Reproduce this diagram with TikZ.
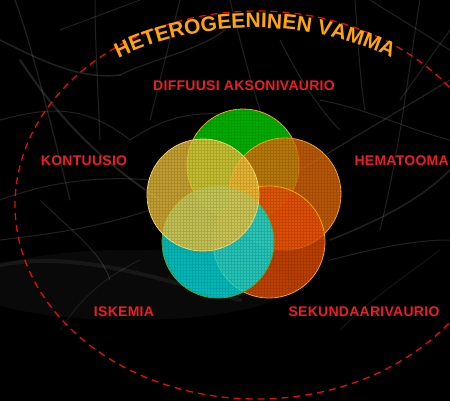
\documentclass[tikz,border=0pt]{standalone}
\usepackage{fontspec}
\setmainfont{Liberation Sans}
\newfontfamily\labfont{Liberation Sans}[LetterSpace=2]
\newfontfamily\arcfont{Liberation Sans}[UprightFont={* Bold}]
\usetikzlibrary{decorations.text}
\definecolor{labred}{RGB}{236,30,36}
\definecolor{dashred}{RGB}{230,10,10}
\definecolor{arcorange}{RGB}{255,165,10}
\definecolor{cgreen}{RGB}{0,215,0}
\definecolor{corange}{RGB}{228,108,12}
\definecolor{cdark}{RGB}{232,78,0}
\definecolor{ccyan}{RGB}{0,228,228}
\definecolor{cyellow}{RGB}{242,196,60}
\definecolor{cedge}{RGB}{245,170,20}
\newcommand\vennGrid[1]{%
  \begin{scope}
    \clip (#1.center) circle[radius=56];
    \draw[black, draw opacity=0.11, line width=0.7pt, step=3pt] ([shift={(-57,-57)}]#1.center) grid ([shift={(57,57)}]#1.center);
  \end{scope}}
\begin{document}
\begin{tikzpicture}[x=1pt,y=-1pt,
  lab/.style={text=labred, font={\labfont\bfseries\fontsize{14}{16}\selectfont}, inner sep=0pt},
  fiber/.style={draw=white, draw opacity=0.13, line cap=round},
  venn/.style={circle, minimum size=112pt, inner sep=0pt, fill opacity=0.8, line width=0.8pt},
]
\fill[black] (0,0) rectangle (450,401);
\useasboundingbox (0,0) rectangle (450,401);
% background fibres
\fill[white, opacity=0.035] (130,285) ellipse [x radius=160, y radius=35];
\draw[fiber, line width=1.5pt] (0,40) .. controls (40,60) and (80,80) .. (120,75);
\draw[fiber, line width=1.2pt] (15,0) .. controls (30,40) and (50,120) .. (70,200);
\draw[fiber, line width=1pt] (0,120) .. controls (40,110) and (80,100) .. (130,140);
\draw[fiber, line width=2pt] (20,60) .. controls (60,120) and (100,160) .. (160,200);
\draw[fiber, line width=1pt] (95,0) .. controls (95,40) and (98,90) .. (100,140);
\draw[fiber, line width=1pt] (60,30) -- (140,0);
\draw[fiber, line width=1.2pt] (120,75) .. controls (150,60) and (200,50) .. (225,30);
\draw[fiber, line width=1pt] (130,140) .. controls (160,120) and (190,110) .. (230,115);
\draw[fiber, line width=1pt] (0,200) .. controls (40,185) and (90,175) .. (150,180);
\draw[fiber, line width=1pt] (180,0) .. controls (170,40) and (160,80) .. (150,120);
\draw[fiber, line width=1pt] (230,0) .. controls (240,40) and (250,80) .. (260,110);
\draw[fiber, line width=1pt] (355,0) .. controls (358,40) and (360,80) .. (365,110);
\draw[fiber, line width=1.2pt] (300,170) .. controls (350,140) and (400,110) .. (450,80);
\draw[fiber, line width=1pt] (370,0) -- (450,50);
\draw[fiber, line width=1pt] (320,100) .. controls (370,110) and (410,130) .. (450,140);
\draw[fiber, line width=1.5pt] (330,240) .. controls (380,220) and (420,200) .. (450,170);
\draw[fiber, line width=1pt] (400,100) -- (450,30);
\draw[fiber, line width=1pt] (280,40) .. controls (300,80) and (320,110) .. (340,130);
\draw[fiber, line width=1pt] (420,0) .. controls (410,60) and (400,150) .. (380,230);
\draw[fiber, line width=1pt] (330,260) .. controls (370,250) and (410,240) .. (450,240);
\draw[fiber, line width=4pt, draw opacity=0.06] (0,265) .. controls (80,250) and (160,280) .. (240,300);
\draw[fiber, line width=1pt] (40,200) .. controls (70,230) and (100,250) .. (110,280);
\draw[fiber, line width=1pt] (0,240) .. controls (40,235) and (90,230) .. (150,210);
\draw[fiber, line width=1pt, draw opacity=0.08] (60,330) .. controls (80,300) and (100,280) .. (140,260);
\draw[fiber, line width=1pt, draw opacity=0.08] (340,330) .. controls (370,300) and (400,280) .. (440,250);
% dashed ellipse
\draw[dashred, line width=1.3pt, dash pattern=on 7pt off 5pt] (257,205) ellipse [x radius=242, y radius=194];
% arc title
\path[decorate, decoration={text along path, text align=center,
  text={|\arcfont\fontsize{21}{24}\selectfont\color{arcorange}|HETEROGEENINEN VAMMA}}]
  ([shift={(255,190)}]200:235 and 162) arc[start angle=200, end angle=340, x radius=235, y radius=162];
% circles
\node[venn, fill=cgreen, draw=cedge] (green) at (243,165) {};
\vennGrid{green}
\node[venn, fill=corange, draw=cedge] (orange) at (285,194) {};
\vennGrid{orange}
\node[venn, fill=cdark, draw=cedge] (dark) at (269,242) {};
\vennGrid{dark}
\node[venn, fill=ccyan, draw={rgb,255:red,90;green,170;blue,40}] (cyan) at (218,242) {};
\vennGrid{cyan}
\node[venn, fill=cyellow, draw={rgb,255:red,250;green,215;blue,100}] (yellow) at (203,195) {};
\vennGrid{yellow}
% labels
\node[lab] (diff) at (244,86) {DIFFUUSI AKSONIVAURIO};
\node[lab] (kont) at (84,161) {KONTUUSIO};
\node[lab, anchor=east] (hema) at (449,161) {HEMATOOMA};
\node[lab] (iske) at (124,312) {ISKEMIA};
\node[lab] (seku) at (364,312) {SEKUNDAARIVAURIO};
\end{tikzpicture}
\end{document}
